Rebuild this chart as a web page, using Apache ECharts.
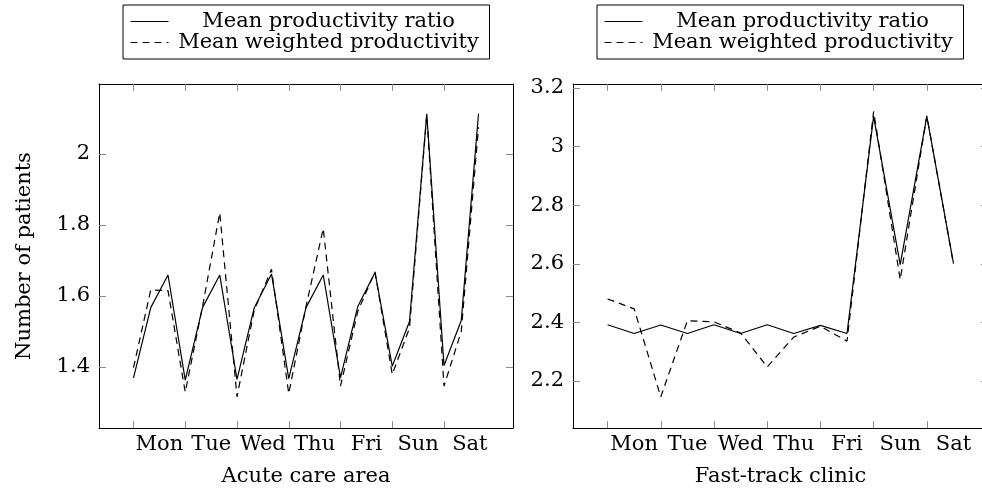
<!DOCTYPE html>
<html>
<head>
<meta charset="utf-8">
<script src="https://cdn.jsdelivr.net/npm/echarts@6/dist/echarts.min.js"></script>
<style>
  html, body { margin: 0; padding: 0; background: #fff; overflow: hidden; }
  #chart { width: 1000px; height: 493px; }
</style>
</head>
<body>
<div id="chart"></div>
<script>
// Day labels shared by both panels
const days = ['Mon', 'Tue', 'Wed', 'Thu', 'Fri', 'Sun', 'Sat'];
const seriesNames = ['Mean productivity ratio', 'Mean weighted productivity'];

// Acute care area: three shifts per day
const acuteRatio = [1.369, 1.567, 1.659, 1.363, 1.567, 1.659, 1.365, 1.567, 1.662,
                    1.367, 1.567, 1.659, 1.370, 1.570, 1.666, 1.402, 1.528, 2.113,
                    1.404, 1.531, 2.113];
const acuteWeighted = [1.398, 1.617, 1.615, 1.329, 1.570, 1.834, 1.316, 1.560, 1.675,
                       1.325, 1.570, 1.790, 1.346, 1.556, 1.668, 1.379, 1.510, 2.110,
                       1.346, 1.500, 2.075];

// Fast-track clinic: two shifts per day
const fastRatio = [2.392, 2.362, 2.391, 2.362, 2.392, 2.362, 2.392,
                   2.362, 2.390, 2.362, 3.103, 2.597, 3.103, 2.603];
const fastWeighted = [2.480, 2.446, 2.146, 2.406, 2.402, 2.364, 2.248,
                      2.350, 2.387, 2.336, 3.120, 2.546, 3.105, 2.600];

// Axis tick values
const acuteYTicks = [1.4, 1.6, 1.8, 2.0];
const fastYTicks = [2.2, 2.4, 2.6, 2.8, 3.0, 3.2];

const FONT = 'DejaVu Serif';
const FS = 21;
const TICK_COLOR = '#8a8a8a';

function xy(values) {
  return values.map((v, i) => [i, v]);
}

function dayTicks(n, perDay) {
  // tick at the start of each day
  const t = [];
  for (let d = 0; d < n; d++) t.push(d * perDay);
  return t;
}
function dayLabelPos(n, perDay) {
  // label centred between day ticks
  const t = [];
  for (let d = 0; d < n; d++) t.push(d * perDay + perDay / 2);
  return t;
}

function xAxes(gridIndex, perDay, min, max, name) {
  const ticks = dayTicks(days.length, perDay);
  const labels = dayLabelPos(days.length, perDay);
  const base = {
    gridIndex, type: 'value', min, max,
    splitLine: { show: false },
    axisLine: { show: true, onZero: false, lineStyle: { color: '#000', width: 1 } },
    axisTick: { show: true, inside: true, length: 7, customValues: ticks,
                lineStyle: { color: TICK_COLOR, width: 1 } }
  };
  return [
    Object.assign({}, base, {
      position: 'bottom',
      axisLabel: {
        show: true, customValues: labels, margin: 6,
        fontFamily: FONT, fontSize: FS, color: '#000',
        formatter: v => days[Math.round((v - perDay / 2) / perDay)]
      },
      name, nameLocation: 'middle', nameGap: 38,
      nameTextStyle: { fontFamily: FONT, fontSize: FS, color: '#000' }
    }),
    Object.assign({}, base, { position: 'top', axisLabel: { show: false } })
  ];
}

function yAxes(gridIndex, min, max, ticks, name) {
  const base = {
    gridIndex, type: 'value', min, max,
    splitLine: { show: false },
    axisLine: { show: true, onZero: false, lineStyle: { color: '#000', width: 1 } },
    axisTick: { show: true, inside: true, length: 7, customValues: ticks,
                lineStyle: { color: TICK_COLOR, width: 1 } }
  };
  const left = Object.assign({}, base, {
    position: 'left',
    axisLabel: {
      show: true, customValues: ticks, margin: 9,
      fontFamily: FONT, fontSize: FS, color: '#000',
      formatter: v => String(Math.round(v * 10) / 10)
    }
  });
  if (name) {
    Object.assign(left, {
      name, nameLocation: 'middle', nameGap: 64, nameRotate: 90,
      nameTextStyle: { fontFamily: FONT, fontSize: FS, color: '#000' }
    });
  }
  return [left, Object.assign({}, base, { position: 'right', axisLabel: { show: false } })];
}

function legendFor(left) {
  return {
    orient: 'vertical', left, top: 5,
    padding: [6, 6, 6, 7], itemGap: 0, itemWidth: 38, itemHeight: 14,
    borderColor: '#000', borderWidth: 1, backgroundColor: '#fff',
    data: seriesNames, selectedMode: false,
    // line sample only, no marker dot
    itemStyle: { color: 'transparent', borderColor: 'transparent', borderWidth: 0, opacity: 0 },
    lineStyle: { width: 1 },
    formatter: n => '{t|' + n + '}',
    textStyle: {
      rich: { t: { width: 310, align: 'center', fontFamily: FONT, fontSize: FS,
                   lineHeight: 28, color: '#000' } }
    }
  };
}

function lineSeries(name, values, axisIndex, dashed) {
  return {
    type: 'line', name, data: xy(values),
    xAxisIndex: axisIndex * 2, yAxisIndex: axisIndex * 2,
    symbol: 'none', showSymbol: false,
    lineStyle: { color: '#000', width: 1.2, type: dashed ? [7, 5] : 'solid' },
    itemStyle: { color: '#000' },
    emphasis: { disabled: true }
  };
}

const chart = echarts.init(document.getElementById('chart'), null, { renderer: 'canvas' });
chart.setOption({
  animation: false,
  backgroundColor: '#fff',
  grid: [
    { left: 99, top: 84, width: 414, height: 344 },
    { left: 573, top: 84, width: 415, height: 344 }
  ],
  legend: [legendFor(123), legendFor(597)],
  xAxis: [
    ...xAxes(0, 3, -2, 22, 'Acute care area'),
    ...xAxes(1, 2, -1.3, 14.3, 'Fast-track clinic')
  ],
  yAxis: [
    ...yAxes(0, 1.228, 2.197, acuteYTicks, 'Number of patients'),
    ...yAxes(1, 2.0396, 3.2137, fastYTicks, null)
  ],
  series: [
    lineSeries(seriesNames[0], acuteRatio, 0, false),
    lineSeries(seriesNames[1], acuteWeighted, 0, true),
    lineSeries(seriesNames[0], fastRatio, 1, false),
    lineSeries(seriesNames[1], fastWeighted, 1, true)
  ]
});
</script>
</body>
</html>
